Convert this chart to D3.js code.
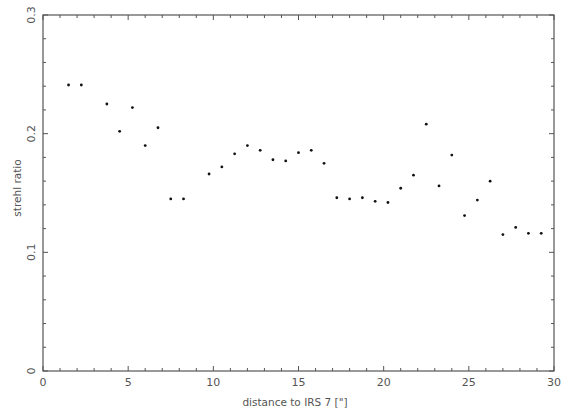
<!DOCTYPE html>
<html>
<head>
<meta charset="utf-8">
<script src="https://cdn.jsdelivr.net/npm/d3@7"></script>
<style>
  body { margin: 0; background: #fff; }
  svg text { font-family: "DejaVu Sans", sans-serif; fill: #555; }
</style>
</head>
<body>
<div id="chart"></div>
<script>
const distances = [1.5, 2.25, 3.75, 4.5, 5.25, 6, 6.75, 7.5, 8.25, 9.75, 10.5, 11.25, 12, 12.75,
    13.5, 14.25, 15, 15.75, 16.5, 17.25, 18, 18.75, 19.5, 20.25, 21, 21.75, 22.5, 23.25,
    24, 24.75, 25.5, 26.25, 27, 27.75, 28.5, 29.25]
const strehl = [0.241, 0.241, 0.225, 0.202, 0.222, 0.190, 0.205, 0.145, 0.145, 0.166, 0.172,
    0.183, 0.190, 0.186, 0.178, 0.177, 0.184, 0.186, 0.175, 0.146, 0.145, 0.146, 0.143,
    0.142, 0.154, 0.165, 0.208, 0.156, 0.182, 0.131, 0.144, 0.160, 0.115, 0.121, 0.116, 0.116]
const xTicks = [0, 5, 10, 15, 20, 25, 30]
const yTicks = [0, 0.1, 0.2, 0.3]

const W = 570, H = 409
const margin = {top: 15, right: 16, bottom: 38, left: 43}
const iw = W - margin.left - margin.right
const ih = H - margin.top - margin.bottom

const svg = d3.select('#chart').append('svg')
    .attr('width', W).attr('height', H)
const g = svg.append('g')
    .attr('transform', `translate(${margin.left}, ${margin.top})`)

const x = d3.scaleLinear().domain([0, 30]).range([0, iw])
const y = d3.scaleLinear().domain([0, 0.3]).range([ih, 0])

const axisColor = '#555'

// frame
g.append('rect')
    .attr('width', iw).attr('height', ih)
    .attr('fill', 'none').attr('stroke', axisColor).attr('stroke-width', 1.2)

// ticks on all four sides, pointing inward
const xMinor = d3.range(0, 31, 1)
const yMinor = d3.range(0, 0.301, 0.02)
const tickLen = v => (Math.abs(v % 5) < 1e-6 ? 5 : 3)
const yLen = v => (Math.abs(Math.round(v * 100) % 10) < 1e-6 ? 5 : 3)

g.selectAll('.xt-b').data(xMinor).enter().append('line')
    .attr('x1', d => x(d)).attr('x2', d => x(d))
    .attr('y1', ih).attr('y2', d => ih - tickLen(d))
    .attr('stroke', axisColor)
g.selectAll('.xt-t').data(xMinor).enter().append('line')
    .attr('x1', d => x(d)).attr('x2', d => x(d))
    .attr('y1', 0).attr('y2', d => tickLen(d))
    .attr('stroke', axisColor)
g.selectAll('.yt-l').data(yMinor).enter().append('line')
    .attr('y1', d => y(d)).attr('y2', d => y(d))
    .attr('x1', 0).attr('x2', d => yLen(d))
    .attr('stroke', axisColor)
g.selectAll('.yt-r').data(yMinor).enter().append('line')
    .attr('y1', d => y(d)).attr('y2', d => y(d))
    .attr('x1', iw).attr('x2', d => iw - yLen(d))
    .attr('stroke', axisColor)

// tick labels
g.selectAll('.xl').data(xTicks).enter().append('text')
    .attr('x', d => x(d)).attr('y', ih + 15)
    .attr('text-anchor', 'middle')
    .style('font-size', '11px')
    .text(d => d)

g.selectAll('.yl').data(yTicks).enter().append('text')
    .attr('transform', d => `translate(-8, ${y(d)}) rotate(-90)`)
    .attr('text-anchor', 'middle')
    .style('font-size', '11px')
    .text(d => d === 0 ? '0' : d3.format('.1f')(d))

// axis titles
svg.append('text')
    .attr('x', 295).attr('y', H - 3)
    .attr('text-anchor', 'middle')
    .style('font-size', '10.5px')
    .text('distance to IRS 7 ["]')

svg.append('text')
    .attr('transform', `translate(21, ${margin.top + ih / 2 - 5}) rotate(-90)`)
    .attr('text-anchor', 'middle')
    .style('font-size', '10.5px')
    .text('strehl ratio')

// points
g.selectAll('.pt').data(distances).enter().append('circle')
    .attr('cx', d => x(d))
    .attr('cy', (d, i) => y(strehl[i]))
    .attr('r', 1.4)
    .attr('fill', '#111')
</script>
</body>
</html>
